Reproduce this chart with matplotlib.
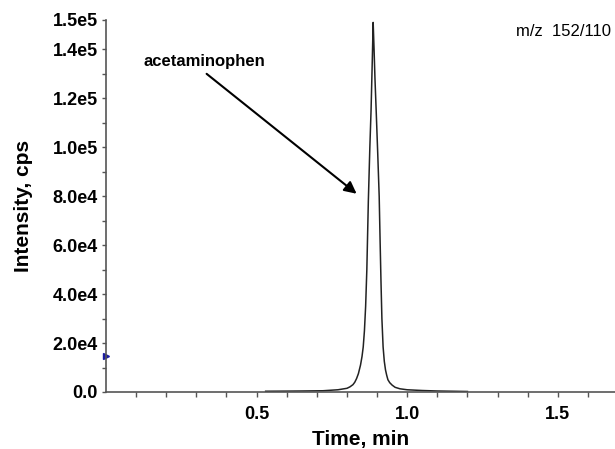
import matplotlib
matplotlib.use('Agg')
import matplotlib.pyplot as plt
import numpy as np

plt.rcParams['font.family'] = ['Liberation Sans', 'DejaVu Sans']

# chromatogram trace (time in min, intensity in cps)
time_min = [0.53, 0.60, 0.65, 0.72, 0.77, 0.80, 0.81, 0.82, 0.826, 0.832,
            0.838, 0.845, 0.850, 0.854, 0.858, 0.862, 0.866, 0.871, 0.876,
            0.880, 0.884, 0.887, 0.890, 0.893, 0.897, 0.902, 0.907, 0.910,
            0.913, 0.916, 0.920, 0.924, 0.928, 0.932, 0.936, 0.942, 0.95,
            0.96, 0.976, 1.00, 1.05, 1.10, 1.15, 1.20]
intensity = [300, 350, 400, 500, 900, 1500, 2100, 3000, 4000, 5500,
             7500, 11000, 14500, 18400, 25000, 35000, 50000, 78000, 100000,
             115000, 135000, 151000, 140000, 128000, 115000, 98000, 80000, 62000,
             45000, 30000, 18400, 12500, 9000, 6800, 5000, 3800, 2800,
             1900, 1300, 900, 600, 400, 300, 200]

y_ticks = [0, 2e4, 4e4, 6e4, 8e4, 1e5, 1.2e5, 1.4e5, 1.52e5]
y_labels = ['0.0', '2.0e4', '4.0e4', '6.0e4', '8.0e4', '1.0e5', '1.2e5', '1.4e5', '1.5e5']
x_ticks = [0.5, 1.0, 1.5]
x_labels = ['0.5', '1.0', '1.5']

marker_level = 1.47e4
arrow_from = (0.334, 1.30e5)
arrow_to = (0.832, 8.1e4)

fig = plt.figure(figsize=(6.15, 4.49), dpi=100)
ax = fig.add_axes([0.1724, 0.127, 0.8276, 0.8285])

ax.plot(time_min, intensity, color='#222222', lw=1.1)

ax.set_xlim(0, 1.69)
ax.set_ylim(0, 1.52e5)
ax.set_xticks(x_ticks)
ax.set_xticklabels(x_labels)
ax.set_xticks(np.arange(0.1, 1.69, 0.1), minor=True)
ax.set_yticks(y_ticks)
ax.set_yticklabels(y_labels)
ax.set_yticks(np.arange(1e4, 1.4e5, 2e4), minor=True)

for lab in ax.get_xticklabels() + ax.get_yticklabels():
    lab.set_fontweight('bold')
    lab.set_fontsize(13)

ax.tick_params(axis='both', which='both', direction='out', color='#555555', width=1.0)
ax.tick_params(axis='x', which='both', length=3.5, pad=6.5)
ax.tick_params(axis='y', which='both', length=3, pad=3)

for s in ['top', 'right']:
    ax.spines[s].set_visible(False)
for s in ['left', 'bottom']:
    ax.spines[s].set_color('#555555')
    ax.spines[s].set_linewidth(1.2)

ax.set_xlabel('Time, min', fontsize=15, fontweight='bold', labelpad=5)
ax.set_ylabel('Intensity, cps', fontsize=15, fontweight='bold', labelpad=14)

ax.plot([0], [marker_level], marker='>', color='#1a1aa0', markersize=5, clip_on=False)

ax.annotate('', xy=arrow_to, xytext=arrow_from,
            arrowprops=dict(arrowstyle='-|>', color='black', lw=1.5,
                            mutation_scale=18, shrinkA=0, shrinkB=0))
ax.text(0.123, 1.35e5, 'acetaminophen', fontsize=12, fontweight='bold',
        ha='left', va='center')
fig.text(0.839, 0.93, 'm/z  152/110', fontsize=12, ha='left', va='center')

plt.savefig('out.png', dpi=100)
